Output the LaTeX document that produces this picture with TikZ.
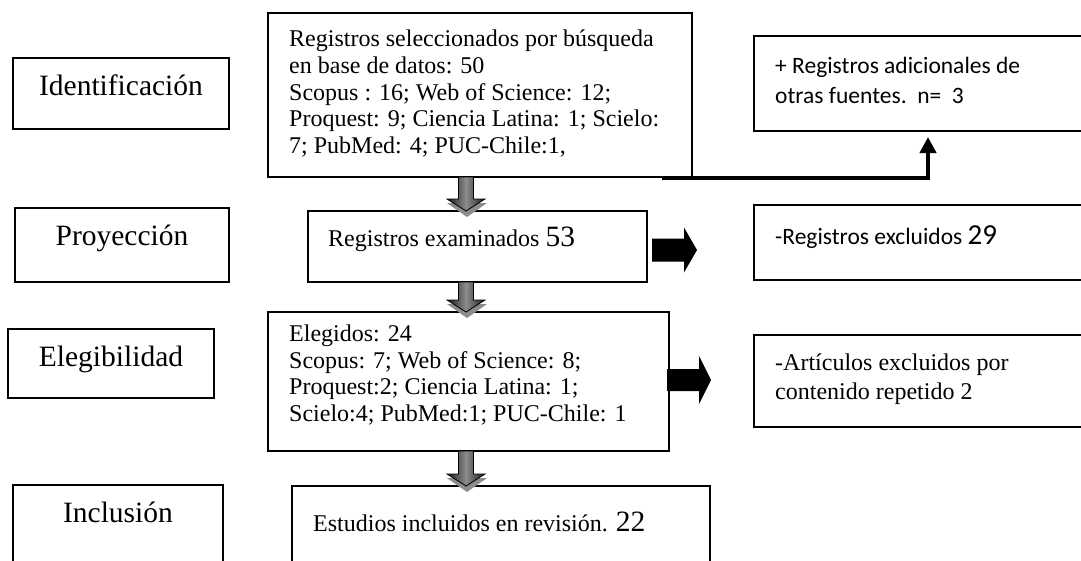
\documentclass[tikz,border=0pt]{standalone}
\usepackage{fontspec}
\setmainfont{Liberation Serif}
\newfontfamily\calib{Carlito}
\usetikzlibrary{calc,arrows.meta}
\tikzset{
 box/.style={draw, line width=1.2pt, inner sep=0pt, outer sep=0pt, anchor=north west},
 lab/.style={font=\fontsize{29.5}{31}\selectfont, inner sep=0pt, anchor=base},
 txt/.style={font=\fontsize{24}{26.7}\selectfont, inner sep=0pt, align=left},
 ctxt/.style={font=\calib\fontsize{23.5}{30}\selectfont, inner sep=0pt, align=left},
 blk/.style={fill=black},
 dnshade/.style={draw=black, line width=0.8pt, left color=black!90, right color=black!90, middle color=black!45},
 dnshadow/.style={fill=black!45},
 elbow/.style={line width=4.5pt, -{Triangle[length=16pt,width=16pt]}, shorten >=6pt},
}
\newcommand\dnarr[2]{%
 \fill[dnshadow] let \p1=(#1), \p2=(#2) in
   (\x1+21pt,\y2+8pt) -- (\x1+1pt,\y2-6pt) -- (\x1-19pt,\y2+8pt) -- cycle;
 \path[dnshade] let \p1=(#1), \p2=(#2) in
   (\x1-7.5pt,\y1) -- (\x1+7.5pt,\y1) -- (\x1+7.5pt,\y2+12pt) -- (\x1+19pt,\y2+12pt)
   -- (\x1,\y2) -- (\x1-19pt,\y2+12pt) -- (\x1-7.5pt,\y2+12pt) -- cycle;
}
\begin{document}
\begin{tikzpicture}[x=1pt,y=-1pt]
\useasboundingbox (0,0) rectangle (1081,560);
\fill[white] (0,0) rectangle (1081,560);
% left stage boxes
\node[box, minimum width=216pt, minimum height=71pt] (l1) at (13,58) {};
\node[box, minimum width=214pt, minimum height=74pt] (l2) at (15,208) {};
\node[box, minimum width=206pt, minimum height=69pt] (l3) at (8,329) {};
\node[box, minimum width=210pt, minimum height=80pt] (l4) at (13,485) {};
\node[lab] (tl1) at ($(l1.north)+(0,37.5)$) {Identificación};
\node[lab] (tl2) at ($(l2.north)+(0,37.5)$) {Proyección};
\node[lab] (tl3) at ($(l3.north)+(0,37.5)$) {Elegibilidad};
\node[lab] (tl4) at ($(l4.north)+(0,37.5)$) {Inclusión};
% main boxes
\node[box, minimum width=424pt, minimum height=164pt] (m1) at (268,13) {};
\node[box, minimum width=339pt, minimum height=71pt] (m2) at (308,211) {};
\node[box, minimum width=401pt, minimum height=139pt] (m3) at (268,312) {};
\node[box, minimum width=418pt, minimum height=80pt] (m4) at (292,486) {};
\node[txt, anchor=west] (tm1) at (289,93.5) {Registros seleccionados por búsqueda\\en base de datos: 50\\Scopus : 16; Web of Science: 12;\\Proquest: 9; Ciencia Latina: 1; Scielo:\\7; PubMed: 4; PUC-Chile:1,};
\node[txt, anchor=base west] (tm2) at (328,246) {Registros examinados {\fontsize{29.5}{30}\selectfont 53}};
\node[txt, anchor=west] (tm3) at (289,375) {Elegidos: 24\\Scopus: 7; Web of Science: 8;\\Proquest:2; Ciencia Latina: 1;\\Scielo:4; PubMed:1; PUC-Chile: 1};
\node[txt, anchor=base west] (tm4) at (313,531) {Estudios incluidos en revisión. {\fontsize{29.5}{30}\selectfont 22}};
% right boxes
\node[box, minimum width=348pt, minimum height=95pt] (r1) at (754,36) {};
\node[box, minimum width=348pt, minimum height=75pt] (r2) at (754,205) {};
\node[box, minimum width=348pt, minimum height=92pt] (r3) at (754,335) {};
\node[ctxt, anchor=west] (tr1) at (775,80) {+ Registros adicionales de\\otras fuentes.\ \ n=\ \ 3};
\node[ctxt, anchor=base west] (tr2) at (775,244) {-Registros excluidos {\fontsize{29}{30}\selectfont 29}};
\node[txt, anchor=west, font=\fontsize{24}{29}\selectfont] (tr3) at (775,379) {-Artículos excluidos por\\contenido repetido 2};
% elbow connector
\draw[elbow] ($(m1.south east)+(-30,1)$) -| (r1.south);
% down block arrows
\coordinate (cx) at (466,0);
\dnarr{m1.south -| cx}{m2.north -| cx}
\dnarr{m2.south -| cx}{m3.north -| cx}
\dnarr{m3.south -| cx}{m4.north -| cx}
% right block arrows
\coordinate (aA) at ($(m2.east)+(5,3.5)$);
\fill[blk] (aA) ++(0,-11.5) -- ++(32,0) -- ++(0,-11) -- ++(13,22.5) -- ++(-13,22.5) -- ++(0,-11) -- ++(-32,0) -- cycle;
\coordinate (aB) at ($(m3.east)+(-2,-1.5)$);
\fill[blk] (aB) ++(0,-11) -- ++(32,0) -- ++(0,-13) -- ++(12,24) -- ++(-12,24) -- ++(0,-13) -- ++(-32,0) -- cycle;
\end{tikzpicture}
\end{document}
